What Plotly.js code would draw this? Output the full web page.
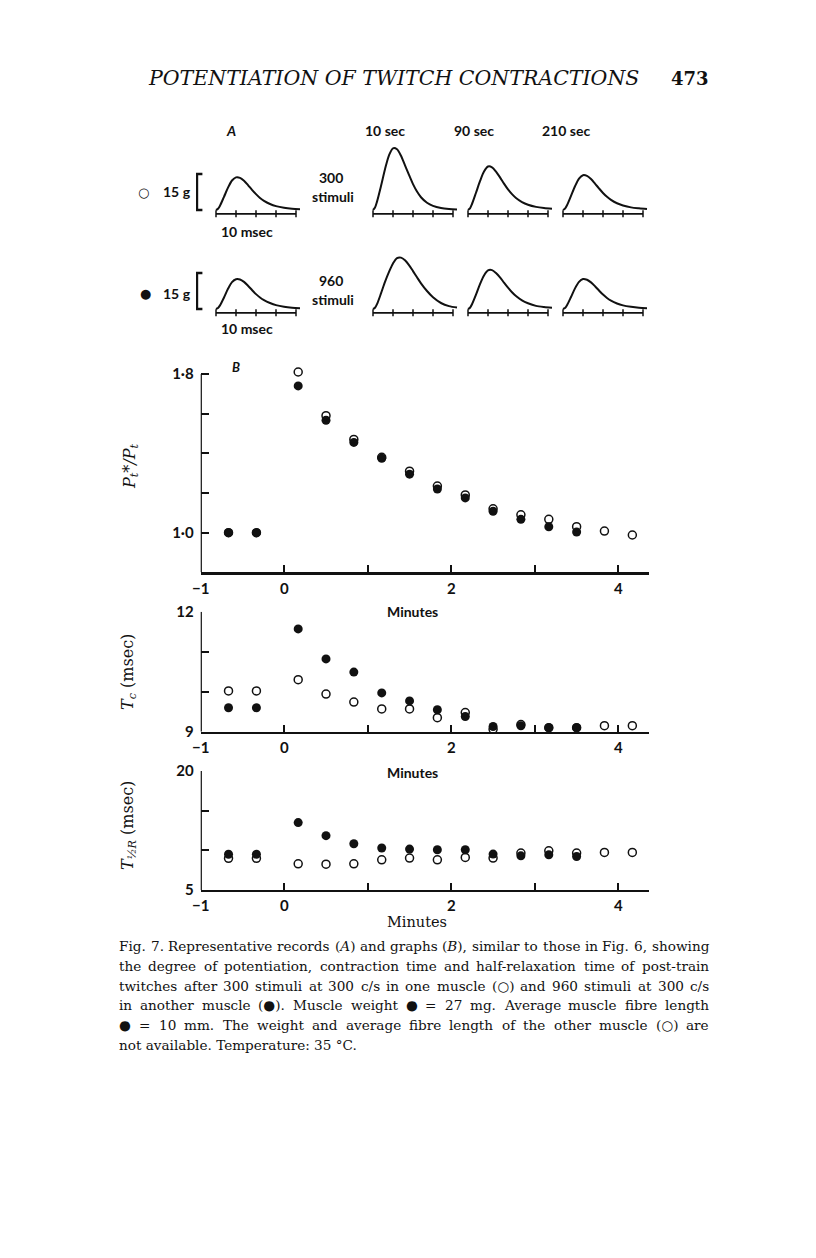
<!DOCTYPE html>
<html>
<head>
<meta charset="utf-8">
<script src="https://cdn.plot.ly/plotly-3.0.1.min.js"></script>
<style>
  html, body { margin: 0; padding: 0; background: #fff; }
  #fig { width: 816px; height: 1258px; }
</style>
</head>
<body>
<div id="fig"></div>
<script>
// ---- A: twitch records (time in msec, tension in g) ----
const twitchTime = [0, 1, 2, 4, 6, 8, 10, 12, 14, 16, 18, 20, 22, 24, 27, 30, 34, 38, 42];
const timeMarks = [0, 10, 20, 30, 40];
const scaleBarG = 15;

// 300 stimuli (open circle muscle)
const ctrl300 = [0, 0.5, 1.8, 5.5, 9.3, 12.3, 13.6, 13.4, 12.2, 10.4, 8.4, 6.6, 5.0, 3.8, 2.5, 1.6, 0.9, 0.5, 0.3];
const s10_300 = [0, 1.0, 3.5, 10, 17, 22.8, 25.7, 25.3, 22.6, 18.6, 14.6, 10.8, 7.7, 5.3, 3.0, 1.7, 0.8, 0.4, 0.2];
const s90_300 = [0, 0.7, 2.5, 7.2, 12, 16, 18.1, 17.8, 16, 13.6, 11, 8.6, 6.6, 5.0, 3.3, 2.2, 1.3, 0.8, 0.5];
const s210_300 = [0, 0.6, 2.0, 5.9, 9.9, 13.1, 14.5, 14.2, 12.9, 11, 9, 7.1, 5.5, 4.2, 2.8, 1.9, 1.1, 0.7, 0.4];
// 960 stimuli (filled circle muscle)
const ctrl960 = [0, 0.4, 1.5, 4.8, 8.4, 11.2, 12.4, 12.3, 11.3, 9.7, 7.9, 6.2, 4.8, 3.7, 2.5, 1.6, 0.9, 0.5, 0.3];
const s10_960 = [0, 0.5, 2.0, 6.5, 11.3, 15.5, 19, 21.2, 21.4, 20.3, 18.3, 15.8, 13.2, 10.7, 7.5, 4.9, 2.5, 1.2, 0.6];
const s90_960 = [0, 0.5, 2.0, 6.0, 10.4, 14, 16.1, 16.2, 15, 13.2, 11, 8.9, 7.0, 5.4, 3.6, 2.4, 1.3, 0.8, 0.5];
const s210_960 = [0, 0.4, 1.6, 5.0, 8.6, 11.3, 12.5, 12.2, 11.1, 9.5, 7.7, 6.0, 4.6, 3.5, 2.3, 1.5, 0.9, 0.5, 0.3];

const columnLabels = ["10 sec", "90 sec", "210 sec"];

// ---- B: graphs (minutes after the train) ----
const minutesOpen = [-0.667, -0.333, 0.167, 0.5, 0.833, 1.167, 1.5, 1.833, 2.167, 2.5, 2.833, 3.167, 3.5, 3.833, 4.167];
const minutesFilled = [-0.667, -0.333, 0.167, 0.5, 0.833, 1.167, 1.5, 1.833, 2.167, 2.5, 2.833, 3.167, 3.5];

const ptOpen = [1.0, 1.0, 1.81, 1.59, 1.47, 1.38, 1.31, 1.235, 1.19, 1.12, 1.09, 1.067, 1.03, 1.008, 0.988];
const ptFilled = [1.0, 1.0, 1.74, 1.567, 1.455, 1.375, 1.295, 1.22, 1.175, 1.108, 1.067, 1.03, 1.003];

const tcOpen = [10.02, 10.02, 10.3, 9.94, 9.74, 9.57, 9.57, 9.35, 9.48, 9.06, 9.18, 9.1, 9.1, 9.15, 9.15];
const tcFilled = [9.6, 9.6, 11.57, 10.82, 10.49, 9.97, 9.77, 9.55, 9.38, 9.13, 9.15, 9.1, 9.1];

const thrOpen = [9.0, 9.0, 8.3, 8.26, 8.3, 8.8, 9.02, 8.8, 9.1, 9.02, 9.65, 9.94, 9.65, 9.73, 9.73];
const thrFilled = [9.5, 9.5, 13.5, 11.85, 10.83, 10.29, 10.16, 10.07, 10.07, 9.53, 9.31, 9.44, 9.22];

const xTickVals = [-1, 0, 2, 4];
const xTickText = ["\u22121", "0", "2", "4"];
const xMinorVals = [1, 3];

const captionLines = [
    "Fig. 7. Representative records (<i>A</i>) and graphs (<i>B</i>), similar to those in Fig. 6, showing",
    "the degree of potentiation, contraction time and half-relaxation time of post-train",
    "twitches after 300 stimuli at 300 c/s in one muscle (○) and 960 stimuli at 300 c/s",
    "in another muscle (●). Muscle weight ● = 27 mg. Average muscle fibre length",
    "● = 10 mm. The weight and average fibre length of the other muscle (○) are",
    "not available. Temperature: 35 °C.",
];

// ---- helpers ----
const W = 816, H = 1258;
const fx = (p) => p / W;
const fy = (p) => 1 - p / H;
const SANS = "Lato, 'Open Sans', sans-serif";
const SERIF = "'DejaVu Serif', 'Liberation Serif', serif";
const INK = "#111";

const traces = [];
const annotations = [];
const shapes = [];

// Panel A subplots: x axes per column, y axes per row
const colOrigins = [216, 373, 468, 563];
const rowBaselines = [210, 309];
const pxPerMs = 2.0, pxPerG = 2.4;

const rows = [
    [ctrl300, s10_300, s90_300, s210_300],
    [ctrl960, s10_960, s90_960, s210_960],
];

const layout = {
    width: W,
    height: H,
    margin: { l: 0, r: 0, t: 0, b: 0 },
    paper_bgcolor: "#fff",
    plot_bgcolor: "rgba(0,0,0,0)",
    showlegend: false,
    font: { family: SANS, color: INK },
};

const msRange = [[-10, 45], [-3, 45], [-3, 45], [-3, 45]];
colOrigins.forEach((x0, c) => {
    const r = msRange[c];
    layout[`xaxis${4 + c}`] = {
        domain: [fx(x0 + r[0] * pxPerMs), fx(x0 + r[1] * pxPerMs)],
        range: r,
        visible: false,
        anchor: "y4",
    };
});
const gRange = [-4, 28];
rowBaselines.forEach((y0, r) => {
    layout[`yaxis${4 + r}`] = {
        domain: [fy(y0 - gRange[0] * pxPerG), fy(y0 - gRange[1] * pxPerG)],
        range: gRange,
        visible: false,
        anchor: "x4",
    };
});

rows.forEach((series, r) => {
    series.forEach((vals, c) => {
        const xa = `x${4 + c}`, ya = `y${4 + r}`;
        traces.push({
            x: twitchTime, y: vals, xaxis: xa, yaxis: ya,
            mode: "lines", line: { color: INK, width: 2, shape: "spline", smoothing: 0.8 },
            hoverinfo: "skip",
        });
        // time marker line, 10 msec between marks
        traces.push({
            x: timeMarks, y: timeMarks.map(() => -1.6), xaxis: xa, yaxis: ya,
            mode: "lines+markers",
            line: { color: INK, width: 1.8 },
            marker: { symbol: "line-ns-open", size: 5, line: { color: INK, width: 1.5 } },
            hoverinfo: "skip",
        });
    });
    // 15 g calibration bracket
    traces.push({
        x: [-6.8, -9.5, -9.5, -6.8],
        y: [scaleBarG, scaleBarG, 0, 0],
        xaxis: "x4", yaxis: `y${4 + r}`,
        mode: "lines", line: { color: INK, width: 2.4 },
        hoverinfo: "skip",
    });
});

// Panel B axes
const bx = [200.7, 649.3];
const xRange = [-1, 4.37];
const graphs = [
    { pxTop: 374, pxBottom: 572.3, range: [0.8, 1.8], extra: 0.05,
      tickvals: [1.0, 1.8], ticktext: ["1·0", "1·8"], minor: [1.2, 1.4, 1.6],
      open: ptOpen, filled: ptFilled },
    { pxTop: 611.7, pxBottom: 731.7, range: [9, 12], extra: 0,
      tickvals: [9, 12], ticktext: ["9", "12"], minor: [10, 11],
      open: tcOpen, filled: tcFilled },
    { pxTop: 771, pxBottom: 890, range: [5, 20], extra: 0,
      tickvals: [5, 20], ticktext: ["5", "20"], minor: [10, 15],
      open: thrOpen, filled: thrFilled },
];
const tickFont = { family: SANS, size: 15, color: INK, weight: 700 };

graphs.forEach((g, i) => {
    const n = i === 0 ? "" : String(i + 1);
    const pxPerUnit = (g.pxBottom - g.pxTop) / (g.range[1] - g.range[0]);
    const top = g.range[1] + g.extra;
    layout[`xaxis${n}`] = {
        domain: [fx(bx[0]), fx(bx[1])],
        range: xRange,
        anchor: `y${n}`,
        showline: true, linecolor: INK, linewidth: 2.4,
        ticks: "inside", ticklen: 7, tickwidth: 2.2, tickcolor: INK,
        tickvals: xTickVals, ticktext: xTickText,
        minor: { tickvals: xMinorVals, ticks: "inside", ticklen: 7, tickwidth: 2.2, tickcolor: INK },
        tickfont: tickFont,
        ticklabelstandoff: 1,
        showgrid: false, zeroline: false,
    };
    layout[`yaxis${n}`] = {
        domain: [fy(g.pxBottom), fy(g.pxTop - g.extra * pxPerUnit)],
        range: [g.range[0], top],
        anchor: `x${n}`,
        showline: false,
        ticks: "inside", ticklen: 8, tickwidth: 2.2, tickcolor: INK,
        tickvals: g.tickvals, ticktext: g.ticktext,
        minor: { tickvals: g.minor, ticks: "inside", ticklen: 8, tickwidth: 2.2, tickcolor: INK },
        tickfont: tickFont,
        ticklabelstandoff: 6,
        showgrid: false, zeroline: false,
    };
    // left axis line stops at the top tick
    shapes.push({
        type: "line", xref: `x${n}`, yref: `y${n}`,
        x0: xRange[0], x1: xRange[0], y0: g.range[0], y1: g.range[1],
        line: { color: INK, width: 2.4 },
    });
    traces.push({
        x: minutesFilled, y: g.filled, xaxis: `x${n}`, yaxis: `y${n}`,
        mode: "markers", cliponaxis: false,
        marker: { symbol: "circle", size: 9, color: INK },
        hoverinfo: "skip",
    });
    traces.push({
        x: minutesOpen, y: g.open, xaxis: `x${n}`, yaxis: `y${n}`,
        mode: "markers", cliponaxis: false,
        marker: { symbol: "circle-open", size: 8, color: INK, line: { width: 1.5, color: INK } },
        hoverinfo: "skip",
    });
});

// ---- text ----
function addText(text, x, y, font, extra) {
    annotations.push(Object.assign({
        text, x: fx(x), y: fy(y), xref: "paper", yref: "paper",
        showarrow: false, xanchor: "center", yanchor: "middle", borderpad: 0, font,
    }, extra || {}));
}
const labelFont = { family: SANS, size: 14, color: INK, weight: 700 };

addText("<i>POTENTIATION OF TWITCH CONTRACTIONS</i>", 147, 78,
    { family: SERIF, size: 20.5, color: INK }, { xanchor: "left" });
addText("<b>473</b>", 690, 78, { family: SERIF, size: 18, color: INK });

addText("<i>A</i>", 231, 131, labelFont);
columnLabels.forEach((t, i) => addText(t, [385, 474, 566][i], 131, labelFont));
addText("○", 143, 192, { family: SERIF, size: 13, color: INK });
addText("15 g", 177, 191, labelFont);
addText("300", 331, 177, labelFont);
addText("stimuli", 333, 197, labelFont);
addText("10 msec", 247, 231, labelFont);
addText("●", 145, 294, { family: SERIF, size: 13, color: INK });
addText("15 g", 177, 293, labelFont);
addText("960", 331, 280, labelFont);
addText("stimuli", 333, 299, labelFont);
addText("10 msec", 247, 328, labelFont);

addText("<i>B</i>", 236, 367, { family: SANS, size: 13, color: INK, weight: 700 });
addText("Minutes", 412, 611, labelFont);
addText("Minutes", 412, 772, labelFont);
addText("Minutes", 417, 922, { family: SERIF, size: 14.5, color: INK });

const ytFont = { family: SERIF, size: 16, color: INK };
addText("<i>P<sub>t</sub>*/P<sub>t</sub></i>", 130, 467, ytFont, { textangle: -90 });
addText("<i>T<sub>c</sub></i> (msec)", 128, 672, ytFont, { textangle: -90 });
addText("<i>T<sub>½R</sub></i> (msec)", 128, 826, ytFont, { textangle: -90 });

// caption: justified lines, word by word
const capSize = 13.6;
const capFont = { family: SERIF, size: capSize, color: INK };
const capLeft = 118, capWidth = 590;
const ctx = document.createElement("canvas").getContext("2d");
ctx.font = `${capSize}px 'DejaVu Serif'`;
captionLines.forEach((line, i) => {
    const y = 946 + i * 19.8;
    if (i === captionLines.length - 1) {
        addText(line, capLeft, y, capFont, { xanchor: "left" });
        return;
    }
    const words = line.split(" ");
    const widths = words.map((w) => ctx.measureText(w.replace(/<[^>]+>/g, "")).width);
    const gap = (capWidth - widths.reduce((a, b) => a + b, 0)) / (words.length - 1);
    let x = capLeft;
    words.forEach((w, k) => {
        addText(w, x, y, capFont, { xanchor: "left" });
        x += widths[k] + gap;
    });
});

layout.annotations = annotations;
layout.shapes = shapes;

Plotly.newPlot("fig", traces, layout, { displayModeBar: false, staticPlot: true });
</script>
</body>
</html>
